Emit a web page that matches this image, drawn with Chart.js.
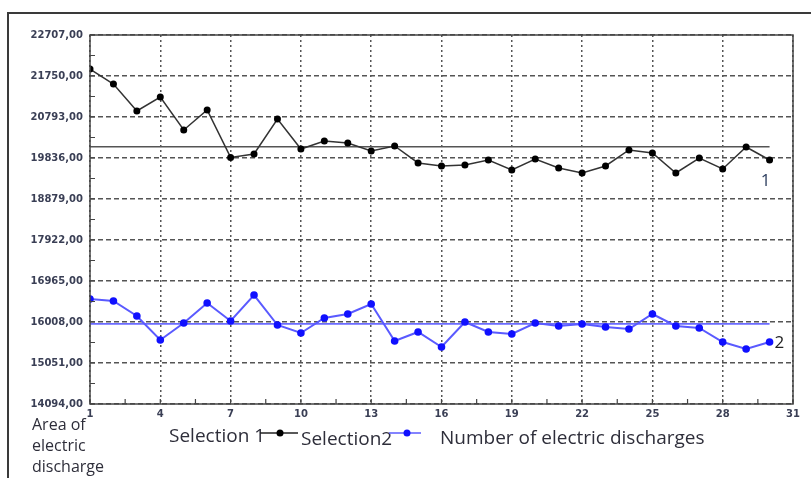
<!DOCTYPE html>
<html>
<head>
<meta charset="utf-8">
<script src="https://cdn.jsdelivr.net/npm/chart.js@4/dist/chart.umd.min.js"></script>
<style>
  body { margin: 0; background: #fff; }
  #wrap { position: relative; width: 811px; height: 478px; overflow: hidden; background: #fff; }
  #frame { position: absolute; left: 7px; top: 12px; width: 900px; height: 600px; border: 2px solid #3a3a3a; }
  canvas { position: absolute; left: 0; top: 0; }
  .txt { position: absolute; font-family: 'Open Sans', sans-serif; font-size: 16px; color: #2e2e3a; white-space: nowrap; }
  .leg { font-size: 19px; line-height: normal; }
  .sym { position: absolute; }
</style>
</head>
<body>
<div id="wrap">
  <div id="frame"></div>
  <canvas id="chart" width="811" height="478"></canvas>
  <div class="txt" style="left:32px; top:414px; line-height:21px;">Area of<br>electric<br>discharge</div>
  <div class="txt leg" style="left:169px; top:422px;">Selection 1</div>
  <svg class="sym" style="left:260px; top:427px;" width="38" height="12"><line x1="0" y1="6" x2="38" y2="6" stroke="#222" stroke-width="1.5"/><circle cx="20" cy="6" r="3.5" fill="#000"/></svg>
  <div class="txt leg" style="left:301px; top:425px;">Selection2</div>
  <svg class="sym" style="left:389px; top:427px;" width="32" height="12"><line x1="0" y1="6" x2="32" y2="6" stroke="#5a5aff" stroke-width="1.5"/><circle cx="18" cy="6" r="3.5" fill="#1010ff"/></svg>
  <div class="txt leg" style="left:440px; top:424px;">Number of electric discharges</div>
</div>
<script>
// discharge numbers (x) and measured areas
const discharges = [1, 2, 3, 4, 5, 6, 7, 8, 9, 10, 11, 12, 13, 14, 15, 16, 17, 18, 19, 20, 21, 22, 23, 24, 25, 26, 27, 28, 29, 30]
const selection1 = [21913, 21563, 20933, 21260, 20490, 20956, 19850, 19930, 20746, 20046, 20233, 20186, 20000, 20116, 19720, 19650, 19673, 19790, 19556, 19813, 19603, 19486, 19650, 20023, 19953, 19486, 19836, 19580, 20093, 19790]
const selection2 = [16545, 16499, 16148, 15588, 15985, 16452, 16031, 16638, 15938, 15751, 16102, 16195, 16428, 15565, 15775, 15425, 16008, 15775, 15728, 15985, 15915, 15962, 15892, 15845, 16195, 15915, 15868, 15541, 15378, 15541]
const mean1 = 20100
const mean2 = 15962

const yTicks = [14094, 15051, 16008, 16965, 17922, 18879, 19836, 20793, 21750, 22707]
const xTicks = [1, 4, 7, 10, 13, 16, 19, 22, 25, 28, 31]

const toPoints = (ys) => discharges.map((x, i) => ({ x, y: ys[i] }))
const first = discharges[0]
const last = discharges[discharges.length - 1]

// major ticks plus a minor tick halfway between each pair
const withMinor = (major) => {
  const out = []
  major.forEach((v, i) => {
    out.push({ value: v, major: true })
    if (i < major.length - 1) out.push({ value: (v + major[i + 1]) / 2, major: false })
  })
  return out
}

const fmtArea = (v) => v.toFixed(2).replace('.', ',')

// frame of the plot, inward tick marks and the series numbers
const plotDecor = {
  id: 'plotDecor',
  afterDraw(chart) {
    const { ctx, chartArea: a, scales } = chart
    ctx.save()
    ctx.strokeStyle = '#444'
    ctx.lineWidth = 1.5
    ctx.strokeRect(a.left, a.top, a.right - a.left, a.bottom - a.top)

    ctx.lineWidth = 1.2
    ctx.beginPath()
    scales.y.ticks.forEach((t) => {
      const py = scales.y.getPixelForValue(t.value)
      ctx.moveTo(a.left, py)
      ctx.lineTo(a.left + 5, py)
    })
    scales.x.ticks.forEach((t) => {
      const px = scales.x.getPixelForValue(t.value)
      ctx.moveTo(px, a.bottom)
      ctx.lineTo(px, a.bottom - 5)
    })
    ctx.stroke()

    const p1 = chart.getDatasetMeta(0).data.at(-1)
    const p2 = chart.getDatasetMeta(1).data.at(-1)
    ctx.font = '17px "Open Sans"'
    ctx.textBaseline = 'middle'
    ctx.textAlign = 'center'
    ctx.fillStyle = '#2f4060'
    ctx.fillText('1', p1.x - 4, p1.y + 21)
    ctx.textAlign = 'left'
    ctx.fillStyle = '#222'
    ctx.fillText('2', p2.x + 5, p2.y + 1)
    ctx.restore()
  },
}

const tickFont = { family: 'DejaVu Sans', size: 10, weight: 'bold' }

new Chart(document.getElementById('chart').getContext('2d'), {
  type: 'line',
  data: {
    datasets: [
      {
        label: 'Selection 1',
        data: toPoints(selection1),
        borderColor: '#333',
        borderWidth: 1.5,
        backgroundColor: '#000',
        pointRadius: 3.5,
        pointBorderWidth: 0,
      },
      {
        label: 'Selection2',
        data: toPoints(selection2),
        borderColor: '#5a5aff',
        borderWidth: 2,
        backgroundColor: '#1010ff',
        pointRadius: 3.8,
        pointBorderWidth: 0,
      },
      {
        label: 'mean 1',
        data: [{ x: first, y: mean1 }, { x: last, y: mean1 }],
        borderColor: '#555',
        borderWidth: 1.5,
        pointRadius: 0,
      },
      {
        label: 'mean 2',
        data: [{ x: first, y: mean2 }, { x: last, y: mean2 }],
        borderColor: '#6a6aff',
        borderWidth: 1.8,
        pointRadius: 0,
      },
    ],
  },
  options: {
    responsive: false,
    animation: false,
    devicePixelRatio: 1,
    layout: { padding: { top: 35, right: 18, left: 0, bottom: 0 } },
    plugins: {
      legend: { display: false },
      tooltip: { enabled: false },
    },
    scales: {
      x: {
        type: 'linear',
        min: 1,
        max: 31,
        afterBuildTicks: (scale) => { scale.ticks = withMinor(xTicks) },
        afterFit: (scale) => { scale.height = 74 },
        ticks: {
          autoSkip: false,
          maxRotation: 0,
          padding: 4,
          color: '#3a3f55',
          font: tickFont,
          callback: (v) => (Number.isInteger(v) ? String(v) : ''),
        },
        grid: {
          drawTicks: false,
          lineWidth: 1.5,
          color: (c) => (c.tick && c.tick.major ? '#555' : 'transparent'),
        },
        border: { display: false, dash: [2, 3] },
      },
      y: {
        min: 14094,
        max: 22707,
        afterBuildTicks: (scale) => { scale.ticks = withMinor(yTicks) },
        afterFit: (scale) => { scale.width = 90 },
        ticks: {
          autoSkip: false,
          padding: 7,
          color: '#3a3f55',
          font: tickFont,
          callback: (v, i, ticks) => (ticks[i].major ? fmtArea(v) : ''),
        },
        grid: {
          drawTicks: false,
          lineWidth: 1.5,
          color: (c) => (c.tick && c.tick.major ? '#555' : 'transparent'),
        },
        border: { display: false, dash: [5, 3] },
      },
    },
  },
  plugins: [plotDecor],
})
</script>
</body>
</html>
